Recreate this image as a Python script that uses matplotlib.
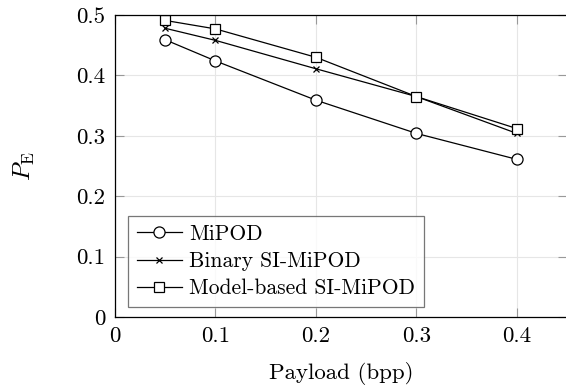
import matplotlib
matplotlib.use("Agg")
import matplotlib.pyplot as plt

payload = [0.05, 0.1, 0.2, 0.3, 0.4]
pe_mipod = [0.459, 0.424, 0.359, 0.304, 0.261]
pe_binary = [0.478, 0.458, 0.411, 0.365, 0.304]
pe_model = [0.491, 0.477, 0.430, 0.365, 0.312]

SERIES = [
    ("MiPOD", pe_mipod, "o", 8),
    ("Binary SI-MiPOD", pe_binary, "x", 5),
    ("Model-based SI-MiPOD", pe_model, "s", 7.5),
]

plt.rcParams["font.family"] = ["cmr10", "DejaVu Serif"]
plt.rcParams["mathtext.fontset"] = "cm"
plt.rcParams["axes.formatter.use_mathtext"] = True

fig = plt.figure(figsize=(5.66, 3.9), dpi=100)
ax = fig.add_axes([115 / 566, 73 / 390, 452 / 566, 302 / 390])

for label, vals, mk, ms in SERIES:
    ax.plot(payload, vals, color="black", lw=0.9, marker=mk, ms=ms,
            mfc="white", mec="black", mew=0.9, label=label)

ax.set_xlim(0, 0.45)
ax.set_ylim(0, 0.5)
ax.set_xticks([0, 0.1, 0.2, 0.3, 0.4])
ax.set_xticklabels(["0", "0.1", "0.2", "0.3", "0.4"])
ax.set_yticks([0, 0.1, 0.2, 0.3, 0.4, 0.5])
ax.set_yticklabels(["0", "0.1", "0.2", "0.3", "0.4", "0.5"])
ax.grid(color="#e6e6e6", lw=0.8)
ax.set_axisbelow(True)
ax.tick_params(direction="in", top=True, right=True, length=6.5,
               color="#999999", labelsize=16.5, pad=7)
for sp in ax.spines.values():
    sp.set_linewidth(0.9)

ax.set_xlabel("Payload (bpp)", fontsize=16.5, labelpad=11)
ax.set_ylabel(r"$P_\mathrm{E}$", fontsize=18, labelpad=28)

leg = ax.legend(loc="lower left", bbox_to_anchor=(0.029, 0.033), fontsize=15.5,
                frameon=True, fancybox=False, handlelength=2.1,
                handletextpad=0.35, borderpad=0.4, labelspacing=0.36,
                borderaxespad=0)
leg.get_frame().set_edgecolor("#555555")
leg.get_frame().set_linewidth(0.9)

fig.savefig("out.png", dpi=100)
